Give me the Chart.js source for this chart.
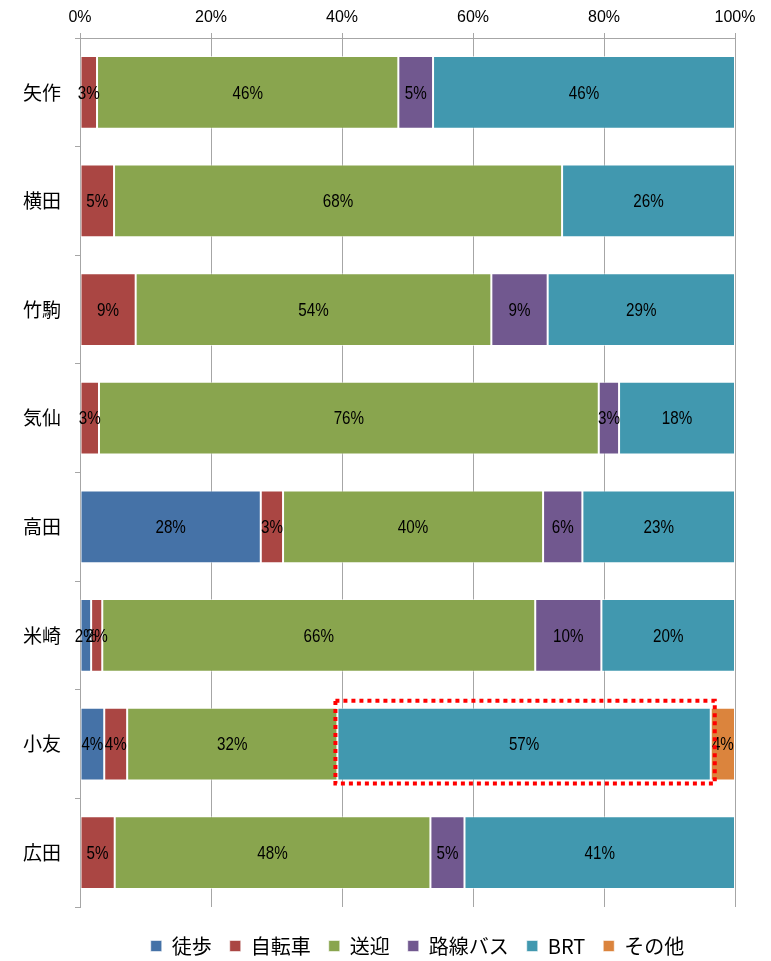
<!DOCTYPE html>
<html>
<head>
<meta charset="utf-8">
<script src="https://cdn.jsdelivr.net/npm/chart.js@4/dist/chart.umd.min.js"></script>
<style>
  html, body { margin: 0; padding: 0; background: #fff; }
  canvas { display: block; }
</style>
</head>
<body>
<canvas id="c" width="771" height="961"></canvas>
<script>
// 駅別・交通手段の構成比（%）
const stations = ['矢作', '横田', '竹駒', '気仙', '高田', '米崎', '小友', '広田'];
const walk     = [0,    0,    0,    0,    27.6, 1.7,  3.7,  0];
const bicycle  = [2.6,  5.2,  8.5,  2.9,  3.4,  1.7,  3.5,  5.3];
const pickup   = [46.0, 68.4, 54.3, 76.3, 39.7, 66.1, 32.1, 48.2];
const routeBus = [5.3,  0,    8.6,  3.1,  6.0,  10.1, 0,    5.2];
const brt      = [46.1, 26.4, 28.6, 17.7, 23.3, 20.4, 57.0, 41.3];
const other    = [0,    0,    0,    0,    0,    0,    3.7,  0];
const percentTicks = [0, 20, 40, 60, 80, 100];

// 強調表示する区間
const highlight = { series: 'BRT', station: '小友' };

const numFont = "'Liberation Sans', Arial, sans-serif";
const jpFont = "'Noto Sans CJK JP', sans-serif";

const series = [
  { label: '徒歩',     data: walk,     color: '#4572A7' },
  { label: '自転車',   data: bicycle,  color: '#AA4643' },
  { label: '送迎',     data: pickup,   color: '#89A54E' },
  { label: '路線バス', data: routeBus, color: '#71588F' },
  { label: 'BRT',      data: brt,      color: '#4198AF' },
  { label: 'その他',   data: other,    color: '#DB843D' }
];

// 各区間の中央に構成比を表示（やや長体の数字）
const valueLabels = {
  id: 'valueLabels',
  afterDatasetsDraw(chart) {
    const ctx = chart.ctx;
    const squeeze = 0.8;
    ctx.save();
    ctx.font = '19px ' + numFont;
    ctx.fillStyle = '#000';
    ctx.textAlign = 'center';
    ctx.textBaseline = 'middle';
    chart.data.datasets.forEach((ds, di) => {
      const meta = chart.getDatasetMeta(di);
      meta.data.forEach((bar, i) => {
        const v = ds.data[i];
        if (!v) return;
        const x = (bar.x + bar.base) / 2;
        ctx.save();
        ctx.translate(x, bar.y + 1);
        ctx.scale(squeeze, 1);
        ctx.fillText(Math.round(v) + '%', 0, 0);
        ctx.restore();
      });
    });
    ctx.restore();
  }
};

// 強調区間を赤い点線で囲む
const highlightBox = {
  id: 'highlightBox',
  afterDraw(chart) {
    const di = chart.data.datasets.findIndex(d => d.label === highlight.series);
    const i = chart.data.labels.indexOf(highlight.station);
    if (di < 0 || i < 0) return;
    const bar = chart.getDatasetMeta(di).data[i];
    const left = Math.min(bar.x, bar.base) - 2;
    const right = Math.max(bar.x, bar.base) + 4;
    const top = bar.y - bar.height / 2 - 7;
    const bottom = bar.y + bar.height / 2 + 3;
    const ctx = chart.ctx;
    ctx.save();
    ctx.strokeStyle = '#FF0000';
    ctx.lineWidth = 4;
    ctx.setLineDash([4, 4]);
    ctx.strokeRect(left, top, right - left, bottom - top);
    ctx.restore();
  }
};

// 凡例をプロット領域の下に少し離して配置
const legendOffset = {
  id: 'legendOffset',
  afterLayout(chart) {
    const lg = chart.legend;
    if (!lg) return;
    const dx = 50, dy = 11;
    lg.left += dx; lg.right += dx;
    lg.top += dy; lg.bottom += dy;
  }
};

new Chart(document.getElementById('c'), {
  type: 'bar',
  data: {
    labels: stations,
    datasets: series.map(s => ({
      label: s.label,
      data: s.data,
      backgroundColor: s.color,
      borderColor: 'rgba(255,255,255,0.55)',
      borderWidth: 1,
      borderSkipped: false,
      categoryPercentage: 1,
      barPercentage: 0.67
    }))
  },
  options: {
    indexAxis: 'y',
    responsive: false,
    animation: false,
    devicePixelRatio: 1,
    layout: { padding: { left: 0, right: 36, top: 0, bottom: 6 } },
    scales: {
      x: {
        position: 'top',
        stacked: true,
        min: 0,
        max: 100,
        afterBuildTicks(scale) {
          scale.ticks = percentTicks.map(v => ({ value: v }));
        },
        afterFit(scale) { scale.height = 38; },
        ticks: {
          callback: v => v + '%',
          color: '#000',
          padding: 6,
          maxRotation: 0,
          font: { family: numFont, size: 16 }
        },
        grid: { color: '#A6A6A6', lineWidth: 1, tickLength: 5 },
        border: { color: '#A6A6A6', width: 1 }
      },
      y: {
        stacked: true,
        afterFit(scale) { scale.width = 80; },
        ticks: {
          color: '#000',
          padding: 14,
          font: { family: jpFont, size: 19 }
        },
        grid: {
          offset: true,
          drawOnChartArea: false,
          color: '#A6A6A6',
          tickLength: 5
        },
        border: { color: '#A6A6A6', width: 1 }
      }
    },
    plugins: {
      legend: {
        position: 'bottom',
        labels: {
          boxWidth: 11,
          boxHeight: 11,
          padding: 18,
          color: '#000',
          font: { family: jpFont, size: 20 }
        }
      },
      tooltip: { enabled: false }
    }
  },
  plugins: [valueLabels, highlightBox, legendOffset]
});
</script>
</body>
</html>
